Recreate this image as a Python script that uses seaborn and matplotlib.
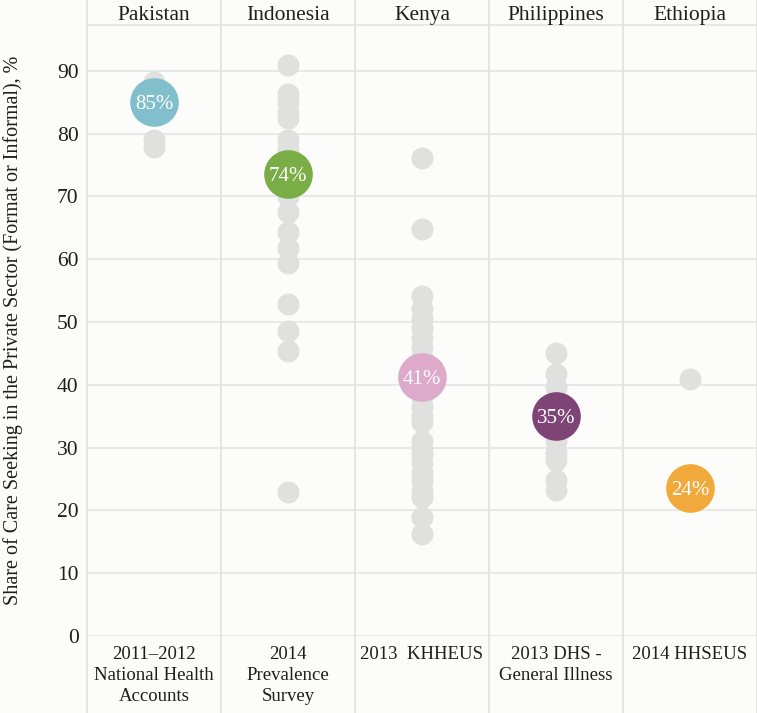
import pandas as pd
import matplotlib
matplotlib.use("Agg")
import matplotlib.pyplot as plt
import seaborn as sns

# categories and labels
countries = ["Pakistan", "Indonesia", "Kenya", "Philippines", "Ethiopia"]
sources = ["2011\u20132012\nNational Health\nAccounts", "2014\nPrevalence\nSurvey",
           "2013  KHHEUS", "2013 DHS -\nGeneral Illness", "2014 HHSEUS"]
colors = ["#80BFCB", "#7AAD45", "#DDAACB", "#7E4475", "#F2A93B"]

# overall share per country (big circles)
averages = [85.0, 73.5, 41.2, 35.0, 23.6]
avg_labels = ["85%", "74%", "41%", "35%", "24%"]

# individual survey points (grey dots)
pakistan_points = [88.2, 79.0, 77.8]
indonesia_points = [91.0, 86.3, 85.0, 83.5, 82.5, 79.0, 77.5, 72.0, 70.0, 67.6,
                    64.4, 61.8, 59.4, 52.9, 48.6, 45.4, 23.0]
kenya_points = [76.1, 64.8, 54.2, 52.0, 50.5, 49.0, 47.5, 46.0, 44.5, 43.0, 39.5,
                38.0, 36.5, 35.0, 34.0, 31.0, 30.0, 29.0, 27.5, 26.0, 24.8, 23.3,
                22.2, 19.0, 16.2]
philippines_points = [45.0, 41.8, 39.7, 37.5, 33.0, 31.0, 29.1, 28.0, 24.8, 23.2]
ethiopia_points = [40.9]

points = [pakistan_points, indonesia_points, kenya_points, philippines_points, ethiopia_points]
dots = pd.DataFrame([(c, v) for c, vals in zip(countries, points) for v in vals],
                    columns=["country", "value"])
avg = pd.DataFrame({"country": countries, "value": averages})

sns.set_style("white")
plt.rcParams["font.family"] = ["Liberation Serif", "DejaVu Serif"]

bg = "#FCFCFA"
grid = "#E4E4E2"
ink = "#1E1E1E"

fig = plt.figure(figsize=(7.57, 7.13), dpi=100, facecolor=bg)
ax = fig.add_axes([87 / 757, 77 / 713, 670 / 757, 611 / 713])
ax.set_facecolor(bg)

sns.stripplot(data=dots, x="country", y="value", order=countries, jitter=False,
              color="#E0E0DE", size=15.8, linewidth=0, ax=ax, zorder=3)
sns.stripplot(data=avg, x="country", y="value", order=countries, hue="country",
              hue_order=countries, palette=colors, jitter=False, size=35,
              linewidth=0, legend=False, ax=ax, zorder=4)

for i, (v, lab) in enumerate(zip(averages, avg_labels)):
    ax.text(i, v, lab, ha="center", va="center_baseline", color="white",
            fontsize=15, zorder=5)

ax.set_xlim(-0.5, len(countries) - 0.5)
ax.set_ylim(0, 97.3)
ax.set_yticks(range(0, 100, 10))
ax.yaxis.grid(True, color=grid, lw=1.2, zorder=0)
ax.set_axisbelow(True)
for s in ax.spines.values():
    s.set_visible(False)
ax.spines["top"].set_visible(True)
ax.spines["top"].set_color(grid)
ax.spines["top"].set_linewidth(1.2)

ax.tick_params(axis="y", length=0, labelsize=15.5, colors=ink, pad=6)
ax.tick_params(axis="x", length=0, labelsize=13.5, colors=ink, pad=7)
ax.set_xticks(range(len(countries)))
ax.set_xticklabels(sources, linespacing=1.3)
ax.set_xlabel("")
ax.set_ylabel("Share of Care Seeking in the Private Sector (Format or Informal), %",
              fontsize=14.5, color=ink)
ax.yaxis.set_label_coords(-(87 - 23) / 670, 0.5)

# facet separators and header titles
trans = ax.get_xaxis_transform()
for k in range(len(countries) + 1):
    ax.plot([k - 0.5, k - 0.5], [-77 / 611, 1 + 25 / 611], transform=trans,
            clip_on=False, color=grid, lw=1.4, zorder=1)
for i, c in enumerate(countries):
    ax.text(i, 1 + 12 / 611, c, transform=trans, ha="center", va="center_baseline",
            fontsize=15.5, color=ink)

fig.savefig("out.png", dpi=100, facecolor=bg)
